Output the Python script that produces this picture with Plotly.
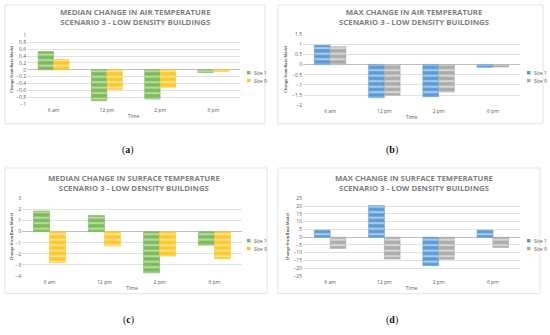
import plotly.graph_objects as go

W, H = 550, 335

times = ["6 am", "12 pm", "2 pm", "6 pm"]
series_names = ["Site 1", "Site 9"]

a_site1 = [0.53, -0.90, -0.85, -0.08]
a_site9 = [0.30, -0.57, -0.51, -0.05]
b_site1 = [0.96, -1.63, -1.58, -0.13]
b_site9 = [0.89, -1.51, -1.35, -0.11]
c_site1 = [1.87, 1.46, -3.72, -1.22]
c_site9 = [-2.77, -1.28, -2.20, -2.44]
d_site1 = [4.5, 20.4, -18.3, 4.5]
d_site9 = [-7.2, -14.0, -14.2, -6.6]

titles = [
    "MEDIAN CHANGE IN AIR TEMPERATURE<br>SCENARIO 3 - LOW DENSITY BUILDINGS",
    "MAX CHANGE IN AIR TEMPERATURE<br>SCENARIO 3 - LOW DENSITY BUILDINGS",
    "MEDIAN CHANGE IN SURFACE TEMPERATURE<br>SCENARIO 3 - LOW DENSITY BUILDINGS",
    "MAX CHANGE IN SURFACE TEMPERATURE<br>SCENARIO 3 - LOW DENSITY BUILDINGS",
]
captions = ["a", "b", "c", "d"]


def fx(px):
    return px / W


def fy(py):
    return 1 - py / H


GREEN = ("#7CBA5A", "#B4DBA0")
YELLOW = ("#FFC629", "#FFE48C")
BLUE = ("#5B9BD5", "#A9CAEA")
GRAY = ("#ABABAB", "#D6D6D6")

panels = [
    dict(data=(a_site1, a_site9), cols=(GREEN, YELLOW), area=(27, 240, 33, 103), rng=(-1, 1), dtick=0.2,
         frame=(5, 265, 2, 123), title_y=14, leg=(247, 71), ytx=12, cap=(128, 150)),
    dict(data=(b_site1, b_site9), cols=(BLUE, GRAY), area=(303, 520, 32, 104), rng=(-2, 1.5), dtick=0.5,
         frame=(278, 543, 2, 123), title_y=14, leg=(527, 71), ytx=286, cap=(392, 150)),
    dict(data=(c_site1, c_site9), cols=(GREEN, YELLOW), area=(22, 242, 199, 278), rng=(-4, 3), dtick=1,
         frame=(5, 267, 168, 296), title_y=183, leg=(247, 242), ytx=11, cap=(128, 323)),
    dict(data=(d_site1, d_site9), cols=(BLUE, GRAY), area=(303, 520, 199, 278), rng=(-25, 25), dtick=5,
         frame=(278, 540, 168, 296), title_y=183, leg=(527, 242), ytx=287, cap=(392, 323)),
]

fig = go.Figure()
layout = dict(
    width=W, height=H, margin=dict(l=0, r=0, t=0, b=0),
    paper_bgcolor="white", plot_bgcolor="white",
    barmode="group", bargap=0.42, bargroupgap=0, showlegend=False,
    font=dict(family="Open Sans", color="#595959", size=5),
    shapes=[], annotations=[],
)

TXT = "#595959"
for i, p in enumerate(panels):
    n = "" if i == 0 else str(i + 1)
    xa, ya = "x" + n, "y" + n
    for s, (vals, (c, sc)) in enumerate(zip(p["data"], p["cols"])):
        fig.add_trace(go.Bar(
            x=times, y=vals, name=series_names[s], xaxis=xa, yaxis=ya,
            marker=dict(color=c, line=dict(color=c, width=0.6),
                        pattern=dict(shape="-", bgcolor=c, fgcolor=sc, size=5.5, solidity=0.4,
                                     fillmode="replace")),
        ))
        lx, ly = p["leg"]
        ly = ly + s * 8
        layout["shapes"].append(dict(type="rect", xref="paper", yref="paper",
                                     x0=fx(lx), x1=fx(lx + 3.5), y0=fy(ly + 1.75), y1=fy(ly - 1.75),
                                     line=dict(width=0), fillcolor=c))
        layout["annotations"].append(dict(
            text=series_names[s], xref="paper", yref="paper", x=fx(lx + 5), y=fy(ly),
            xanchor="left", yanchor="middle", showarrow=False, font=dict(size=5, color=TXT)))
    x0, x1, y0, y1 = p["area"]
    layout["xaxis" + n] = dict(
        domain=[fx(x0), fx(x1)], anchor=ya, showgrid=False, showline=False, zeroline=False,
        ticks="", tickfont=dict(size=5, color=TXT), fixedrange=True, ticklabelstandoff=2,
        title=dict(text="Time", font=dict(size=5, color=TXT), standoff=2),
    )
    layout["yaxis" + n] = dict(
        domain=[fy(y1), fy(y0)], anchor=xa, range=list(p["rng"]), dtick=p["dtick"],
        showgrid=True, gridcolor="#D9D9D9", gridwidth=0.8, zeroline=True, zerolinecolor="#BFBFBF",
        zerolinewidth=1, showline=False, ticks="", tickfont=dict(size=5, color=TXT),
    )
    layout["annotations"].append(dict(
        text="<b>Change from Base Model</b>", xref="paper", yref="paper",
        x=fx(p["ytx"]), y=fy((y0 + y1) / 2), xanchor="center", yanchor="middle", textangle=-90,
        showarrow=False, font=dict(size=3.8, color=TXT)))
    fx0, fx1, fy0, fy1 = p["frame"]
    layout["shapes"].append(dict(type="rect", xref="paper", yref="paper",
                                 x0=fx(fx0), x1=fx(fx1), y0=fy(fy1), y1=fy(fy0),
                                 line=dict(color="#E3E3E3", width=1), fillcolor="rgba(0,0,0,0)", layer="below"))
    layout["annotations"].append(dict(
        text="<b>" + titles[i] + "</b>", xref="paper", yref="paper",
        x=fx((x0 + x1) / 2 + 2), y=fy(p["title_y"]), xanchor="center", yanchor="middle",
        showarrow=False, font=dict(family="Open Sans", size=7.8, color="#7F7F7F"),
    ))
    layout["annotations"].append(dict(
        text="(<b>" + captions[i] + "</b>)", xref="paper", yref="paper",
        x=fx(p["cap"][0]), y=fy(p["cap"][1]), xanchor="center", yanchor="middle",
        showarrow=False, font=dict(family="Liberation Serif", size=10, color="#111111"),
    ))

fig.update_layout(**layout)
fig.write_html("out.html", config={"displayModeBar": False, "staticPlot": True},
               post_script="document.body.style.margin='0';document.body.style.overflow='hidden';")
